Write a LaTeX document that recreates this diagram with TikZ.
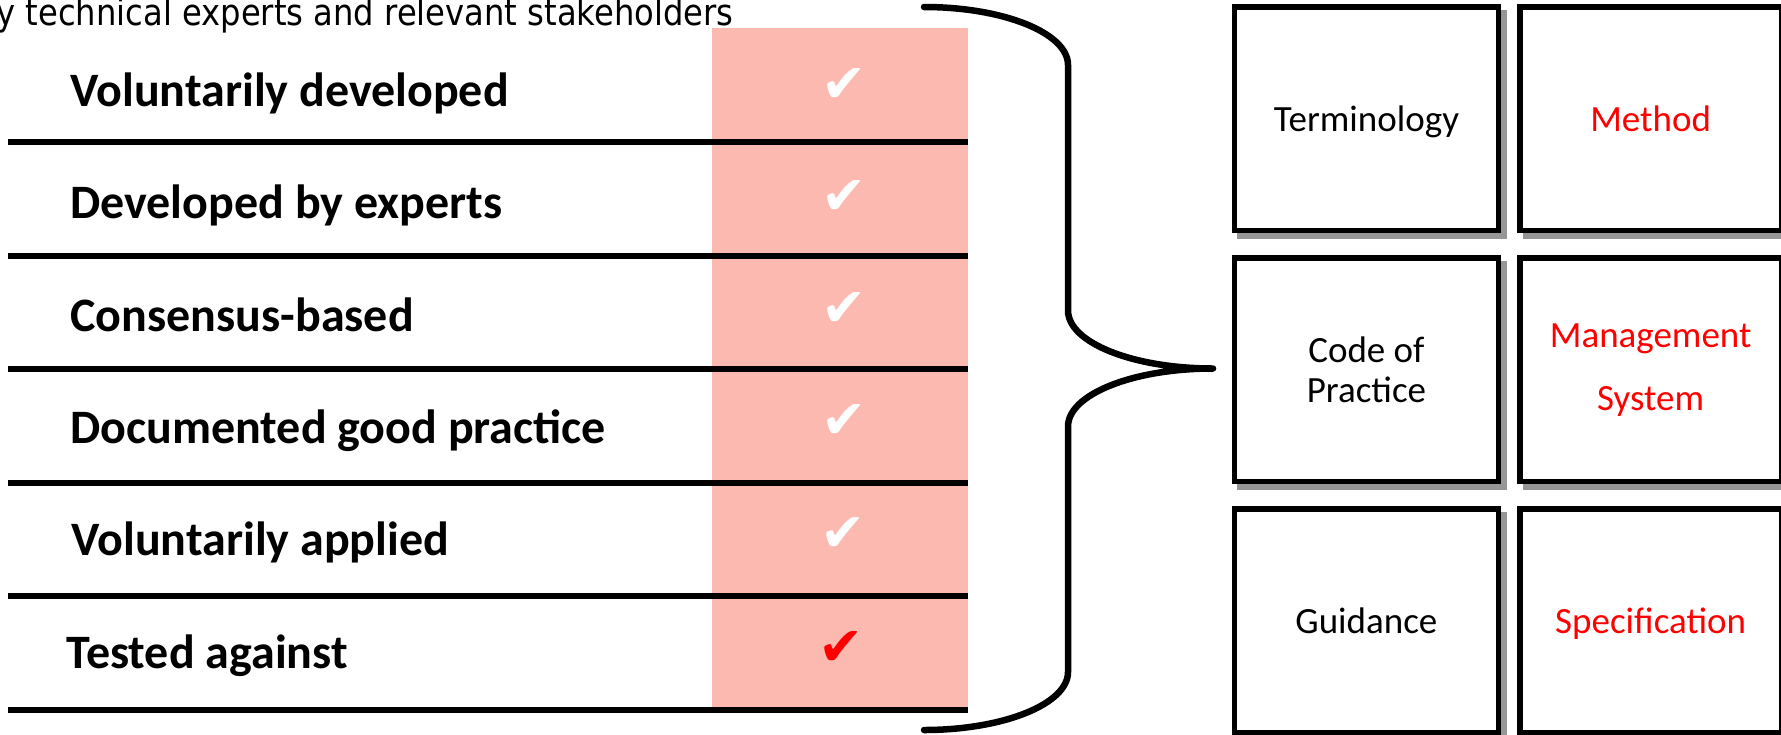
\documentclass[tikz,border=0pt]{standalone}
\usepackage{fontspec}
\setmainfont{Carlito}
\newfontfamily\titlefont[FakeStretch=0.88]{DejaVu Sans}
\newfontfamily\symfont{DejaVu Sans}
\usetikzlibrary{shadows}
\definecolor{pinkfill}{RGB}{252,185,176}
\definecolor{shadowgray}{RGB}{150,150,150}
\begin{document}
\begin{tikzpicture}[x=0.5pt,y=-0.5pt,
  rowlabel/.style={anchor=base west, inner sep=0pt, font=\fontsize{24}{28}\selectfont\bfseries},
  tick/.style={inner sep=0pt, font=\symfont\fontsize{27}{30}\selectfont, text=white},
  rulebar/.style={line width=3pt},
  brace/.style={line width=3.25pt, line cap=round, line join=round},
  box/.style={draw=black, line width=2.75pt, fill=white, minimum height=111.75pt,
    inner sep=0pt, align=center, font=\fontsize{18.5}{20}\selectfont,
    general shadow={draw=shadowgray, fill=white, line width=2.75pt,
      shadow xshift=2.75pt, shadow yshift=-2.75pt}},
  colA/.style={box, minimum width=131.9pt},
  colB/.style={box, minimum width=130.85pt},
  oneline/.style={text height=13pt, text depth=0pt},
  redtxt/.style={text=red}]
\useasboundingbox (0,0) rectangle (1781,734);
\clip (0,0) rectangle (1781,734);
% title (cut at the left edge, as in the source)
\node[anchor=base east, inner sep=0pt, font=\titlefont\fontsize{18.3}{20}\selectfont] (title) at (734,25)
  {y technical experts and relevant stakeholders};
% pink column
\fill[pinkfill] (712,28) rectangle (968,710);
% rules
\foreach \y in {142,255.5,369,482.5,596,709.5}
  \draw[rulebar] (8,\y) -- (968,\y);
% row labels
\node[rowlabel] (l1) at (70,106) {Voluntarily developed};
\node[rowlabel] (l2) at (70,218.5) {Developed by experts};
\node[rowlabel] (l3) at (70,331) {Consensus-based};
\node[rowlabel] (l4) at (70,443) {Documented good practice};
\node[rowlabel] (l5) at (71,555) {Voluntarily applied};
\node[rowlabel] (l6) at (66,668) {Tested against};
% ticks
\node[tick] (t1) at (844,85) {✔};
\node[tick] (t2) at (844,197) {✔};
\node[tick] (t3) at (844,309) {✔};
\node[tick] (t4) at (844,421) {✔};
\node[tick] (t5) at (843,534) {✔};
\node[tick, text=red] (t6) at (841,648) {✔};
% brace
\draw[brace] (924,7) .. controls (1003.5,7) and (1068,33) .. (1068,65)
  -- (1068,310.5) .. controls (1068,342.5) and (1132.5,368.5) .. (1213,368.5) coordinate (tip)
  .. controls (1132.5,368.5) and (1068,394.5) .. (1068,426.5)
  -- (1068,672) .. controls (1068,704) and (1003.5,730) .. (924,730);
% boxes
\node[colA, oneline] (term) at (1366.4,118.55) {Terminology};
\node[colB, oneline, redtxt] (meth) at (1650.65,118.55) {Method};
\node[colA] (code) at (1366.4,369.8) {Code of\\Practice};
\node[colB, redtxt, font=\fontsize{18.5}{31.5}\selectfont] (mgmt) at (1650.65,369.8) {Management\\System};
\node[colA, oneline] (guid) at (1366.4,620.55) {Guidance};
\node[colB, oneline, redtxt] (spec) at (1650.65,620.55) {Specification};
\end{tikzpicture}
\end{document}
